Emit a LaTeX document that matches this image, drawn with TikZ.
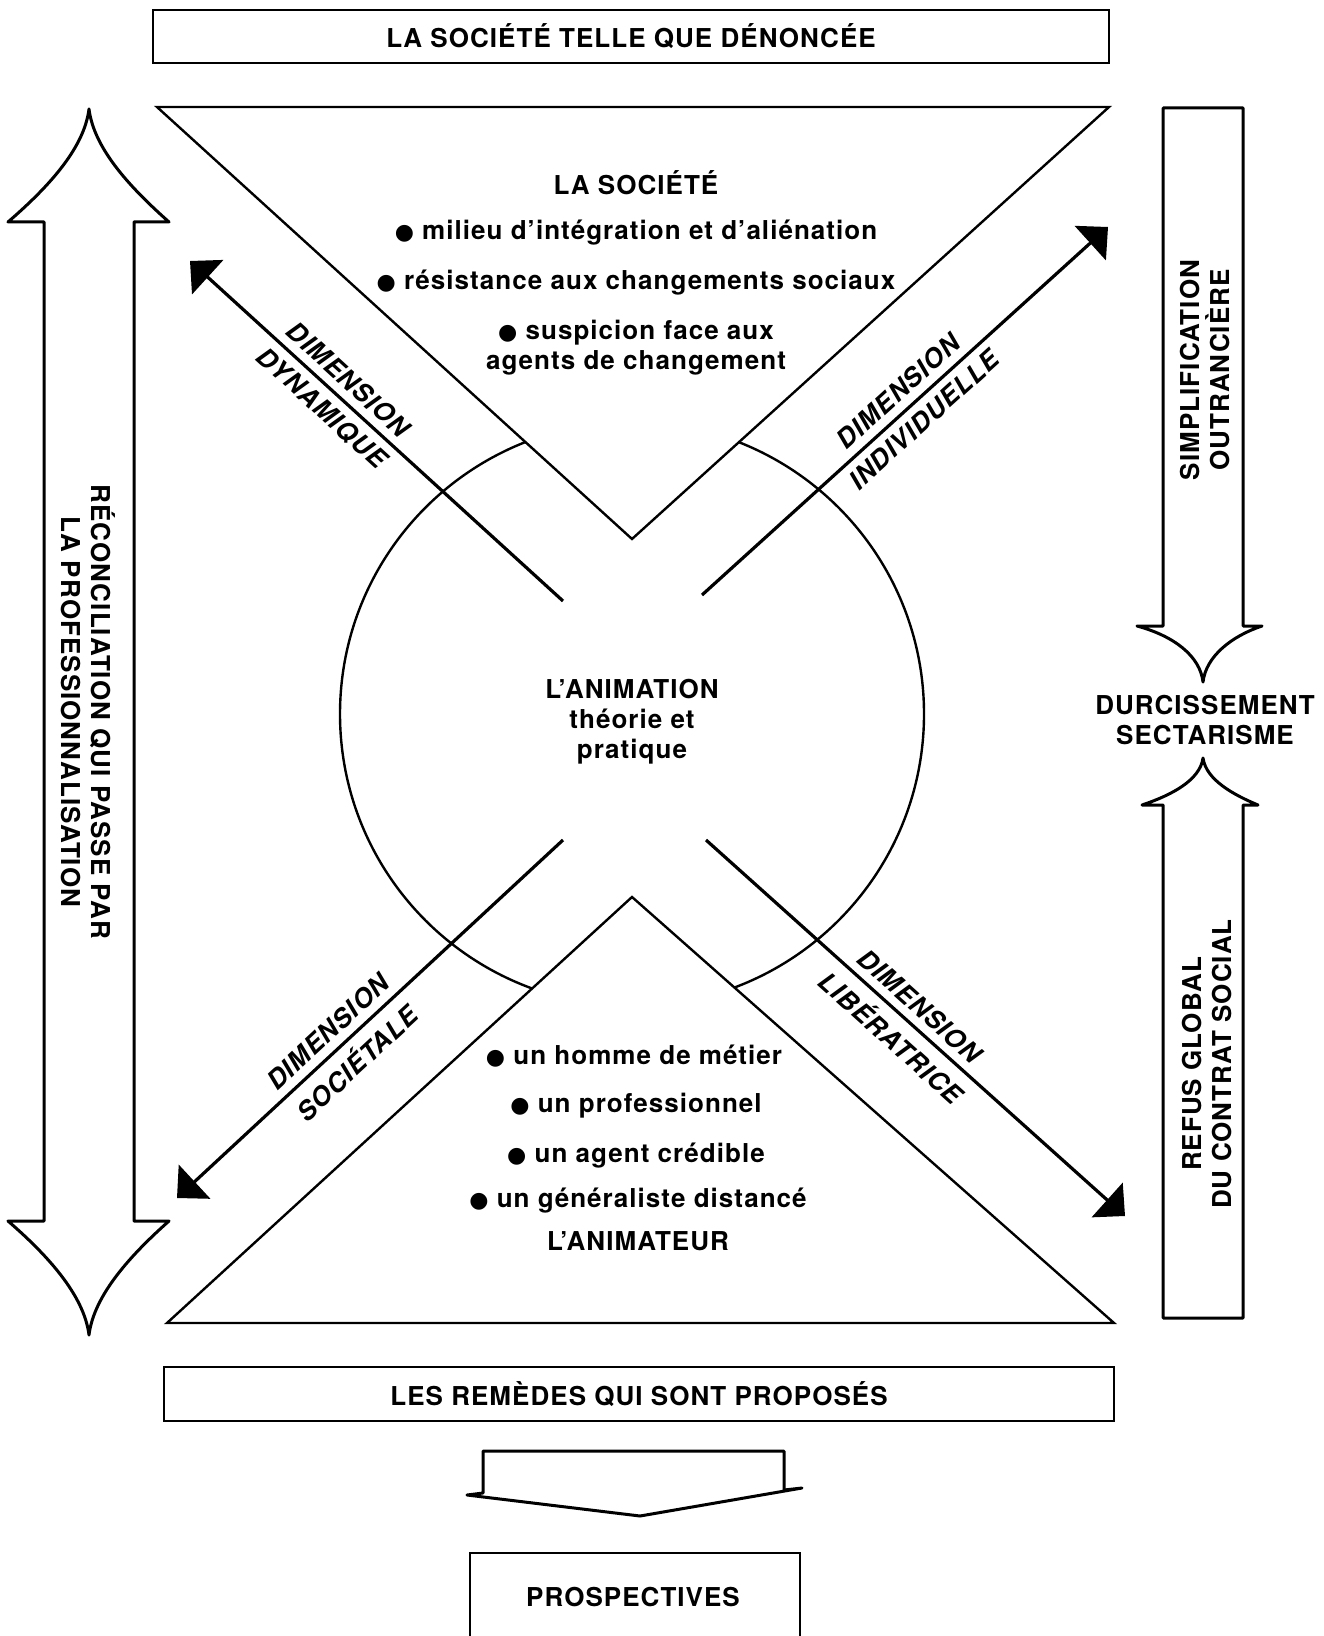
\documentclass[tikz,border=0pt]{standalone}
\usepackage{fontspec}
\setmainfont{TeX Gyre Heros}[LetterSpace=4]
\newfontfamily\symfont{DejaVu Sans}
\newcommand{\bul}{{\fontsize{11}{11}\selectfont\symfont ●}\ }
\usetikzlibrary{arrows.meta}
\begin{document}
\begin{tikzpicture}[x=0.5pt,y=-0.5pt,
  txt/.style={font=\fontsize{13}{15}\selectfont\bfseries, inner sep=0pt, align=center},
  dimtxt/.style={font=\fontsize{13}{15}\selectfont\bfseries\itshape, inner sep=1pt},
  framebox/.style={draw, line width=1.3pt, inner sep=0pt},
  thinline/.style={line width=1.2pt, line join=miter},
  diag/.style={line width=1.6pt, -{Triangle[length=12pt,width=23pt]}},
  blockarrow/.style={draw, line width=1.5pt, line join=round}
]
\useasboundingbox (0,0) rectangle (1323,1636);
\fill[white] (0,0) rectangle (1323,1636);

% top and bottom boxes
\node[framebox, minimum width=478pt, minimum height=26.5pt] (topbox) at (631,36.5) {};
\node[txt] (toptxt) at (topbox.center) {LA SOCIÉTÉ TELLE QUE DÉNONCÉE};
\node[framebox, minimum width=475pt, minimum height=27pt] (botbox) at (639,1394) {};
\node[txt] (bottxt) at (botbox.center) {LES REMÈDES QUI SONT PROPOSÉS};

% circle
\node[draw, circle, line width=1.2pt, minimum size=292pt, inner sep=0pt] (anim) at (632,714) {};

% triangles
\draw[thinline, fill=white] (157,107) -- (1109,107) -- (632,539) -- cycle;
\draw[thinline, fill=white] (632,897) -- (1114,1323) -- (167,1323) -- cycle;

% diagonal arrows
\coordinate (nwT) at (563,601); \coordinate (nwH) at (190,261);
\coordinate (neT) at (702,595); \coordinate (neH) at (1108,227);
\coordinate (swT) at (563,840); \coordinate (swH) at (177,1198);
\coordinate (seT) at (706,840); \coordinate (seH) at (1125,1216);

\draw[diag] (nwT) -- node[pos=0.61, sloped, above=3pt, dimtxt] (dimA) {DIMENSION}
                     node[pos=0.61, sloped, below=3pt, dimtxt] (dynA) {DYNAMIQUE} (nwH);
\draw[diag] (neT) -- node[pos=0.515, sloped, above=3pt, dimtxt] (dimB) {DIMENSION}
                     node[pos=0.515, sloped, below=3pt, dimtxt] (indB) {INDIVIDUELLE} (neH);
\draw[diag] (swT) -- node[pos=0.575, sloped, above=3pt, dimtxt] (dimC) {DIMENSION}
                     node[pos=0.575, sloped, below=3pt, dimtxt] (socC) {SOCIÉTALE} (swH);
\draw[diag] (seT) -- node[pos=0.48, sloped, above=3pt, dimtxt] (dimD) {DIMENSION}
                     node[pos=0.48, sloped, below=3pt, dimtxt] (libD) {LIBÉRATRICE} (seH);

% left double block arrow
\draw[blockarrow] (44,1221) -- (44,222) -- (8,222)
   .. controls (45,190) and (84,150) .. (89,109)
   .. controls (94,150) and (133,190) .. (169,222)
   -- (134,222) -- (134,1221) -- (169,1221)
   .. controls (133,1253) and (94,1294) .. (89,1335)
   .. controls (84,1294) and (45,1253) .. (8,1221) -- cycle;
\node[txt, rotate=-90] (reconc) at (88,712) {RÉCONCILIATION QUI PASSE PAR\\LA PROFESSIONNALISATION};

% right arrows
\draw[blockarrow] (1163,108) -- (1243,108) -- (1243,626) -- (1262,626)
   .. controls (1232,636) and (1206,656) .. (1203,682)
   .. controls (1200,656) and (1174,636) .. (1137,626)
   -- (1163,626) -- cycle;
\node[txt, rotate=90] (simpl) at (1205,370) {SIMPLIFICATION\\OUTRANCIÈRE};
\node[txt] (durc) at (1205,720) {DURCISSEMENT\\SECTARISME};
\draw[blockarrow] (1163,1318) -- (1163,805) -- (1142,805)
   .. controls (1172,795) and (1200,780) .. (1203,758)
   .. controls (1206,780) and (1234,795) .. (1258,805)
   -- (1243,805) -- (1243,1318) -- cycle;
\node[txt, rotate=90] (refus) at (1207,1064) {REFUS GLOBAL\\DU CONTRAT SOCIAL};

% top triangle texts
\node[txt] (soc) at (636,183) {LA SOCIÉTÉ};
\node[txt] (s1) at (636,233) {\bul milieu d'intégration et d'aliénation};
\node[txt] (s2) at (636,283) {\bul résistance aux changements sociaux};
\node[txt] (s3) at (636,348) {\bul suspicion face aux\\agents de changement};

% center texts
\node[txt] (animtxt) at (632,722) {L'ANIMATION\\théorie et\\pratique};

% bottom triangle texts
\node[txt] (b1) at (634,1056) {\bul un homme de métier};
\node[txt] (b2) at (636,1106) {\bul un professionnel};
\node[txt] (b3) at (636,1156) {\bul un agent crédible};
\node[txt] (b4) at (638,1201) {\bul un généraliste distancé};
\node[txt] (b5) at (638,1241) {L'ANIMATEUR};

% bottom block arrow and prospectives
\draw[blockarrow] (467,1495) -- (483,1493) -- (483,1451) -- (784,1451) -- (784,1490)
   -- (802,1488) -- (640,1516) -- cycle;
\draw[line width=1.3pt] (470,1645) -- (470,1553) -- (800,1553) -- (800,1645);
\node[txt] (prosp) at (633,1597) {PROSPECTIVES};
\end{tikzpicture}
\end{document}
